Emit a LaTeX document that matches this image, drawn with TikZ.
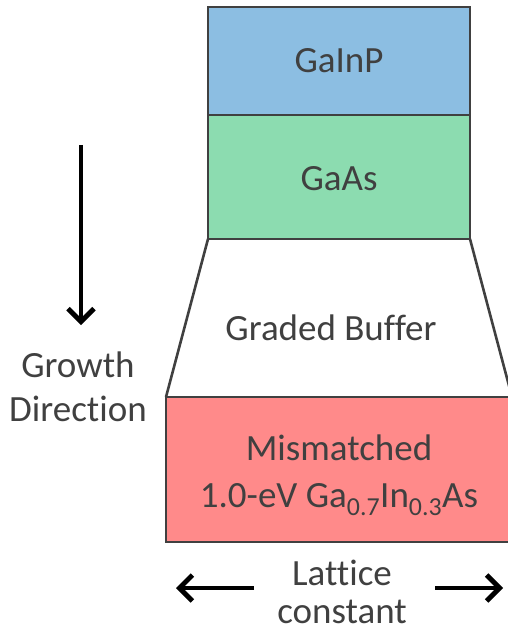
\documentclass[tikz,border=0pt]{standalone}
\usepackage{fontspec}
\setmainfont{Carlito}[Ligatures={NoCommon}]
\usetikzlibrary{arrows.meta}
\definecolor{edge}{HTML}{404040}
\definecolor{inkgray}{HTML}{404040}
\definecolor{gainp}{HTML}{8CBEE2}
\definecolor{gaas}{HTML}{8CDCB0}
\definecolor{gainas}{HTML}{FF8A8A}
\tikzset{
  layer/.style={draw=edge, line width=2.6pt, line join=miter},
  label/.style={anchor=base, text=inkgray, font=\fontsize{37}{44}\selectfont, inner sep=0pt},
  bigarrow/.style={line width=4.8pt, -{Straight Barb[length=13pt,width=26pt,line width=4.8pt]}}
}
\begin{document}
\begin{tikzpicture}[x=1pt, y=-1pt]
  \useasboundingbox (0,0) rectangle (508,631);
  \clip (0,0) rectangle (508,631);

  % corner points of the layer stack
  \coordinate (t1) at (208,7);
  \coordinate (t2) at (470,7);
  \coordinate (m1) at (208,115);
  \coordinate (m2) at (470,115);
  \coordinate (b1) at (208,239);
  \coordinate (b2) at (470,239);
  \coordinate (g1) at (166,397);
  \coordinate (g2) at (512,397);
  \coordinate (r1) at (166,542);
  \coordinate (r2) at (512,542);

  % layers
  \fill[gainp] (t1) rectangle (m2);
  \fill[gaas] (m1) rectangle (b2);
  \fill[gainas] (g1) rectangle (r2);
  \draw[layer] (t1) rectangle (m2);
  \draw[layer] (m1) rectangle (b2);
  \draw[layer] (b1) -- (g1) (b2) -- (g2);
  \draw[layer] (g1) rectangle (r2);

  % layer names
  \node[label] (lgainp) at (339,73) {GaInP};
  \node[label] (lgaas) at (339,190) {GaAs};
  \node[label] (lbuf) at (331,340) {Graded Buffer};
  \node[label] (lmis1) at (339,460) {Mismatched};
  \node[label] (lmis2) at (339,507) {1.0-eV Ga\textsubscript{0.7}In\textsubscript{0.3}As};

  % growth direction
  \coordinate (gstart) at (81,145);
  \coordinate (gend) at (81,325);
  \draw[bigarrow] (gstart) -- (gend);
  \node[label] (lgrowth) at (78,377) {Growth};
  \node[label] (ldir) at (78,421) {Direction};

  % lattice constant
  \node[label] (llat) at (342,585) {Lattice};
  \node[label] (lcon) at (342,623) {constant};
  \coordinate (ltail) at (254,588);
  \coordinate (ltip) at (176,588);
  \coordinate (rtail) at (435,588);
  \coordinate (rtip) at (503,588);
  \draw[bigarrow] (ltail) -- (ltip);
  \draw[bigarrow] (rtail) -- (rtip);
\end{tikzpicture}
\end{document}
